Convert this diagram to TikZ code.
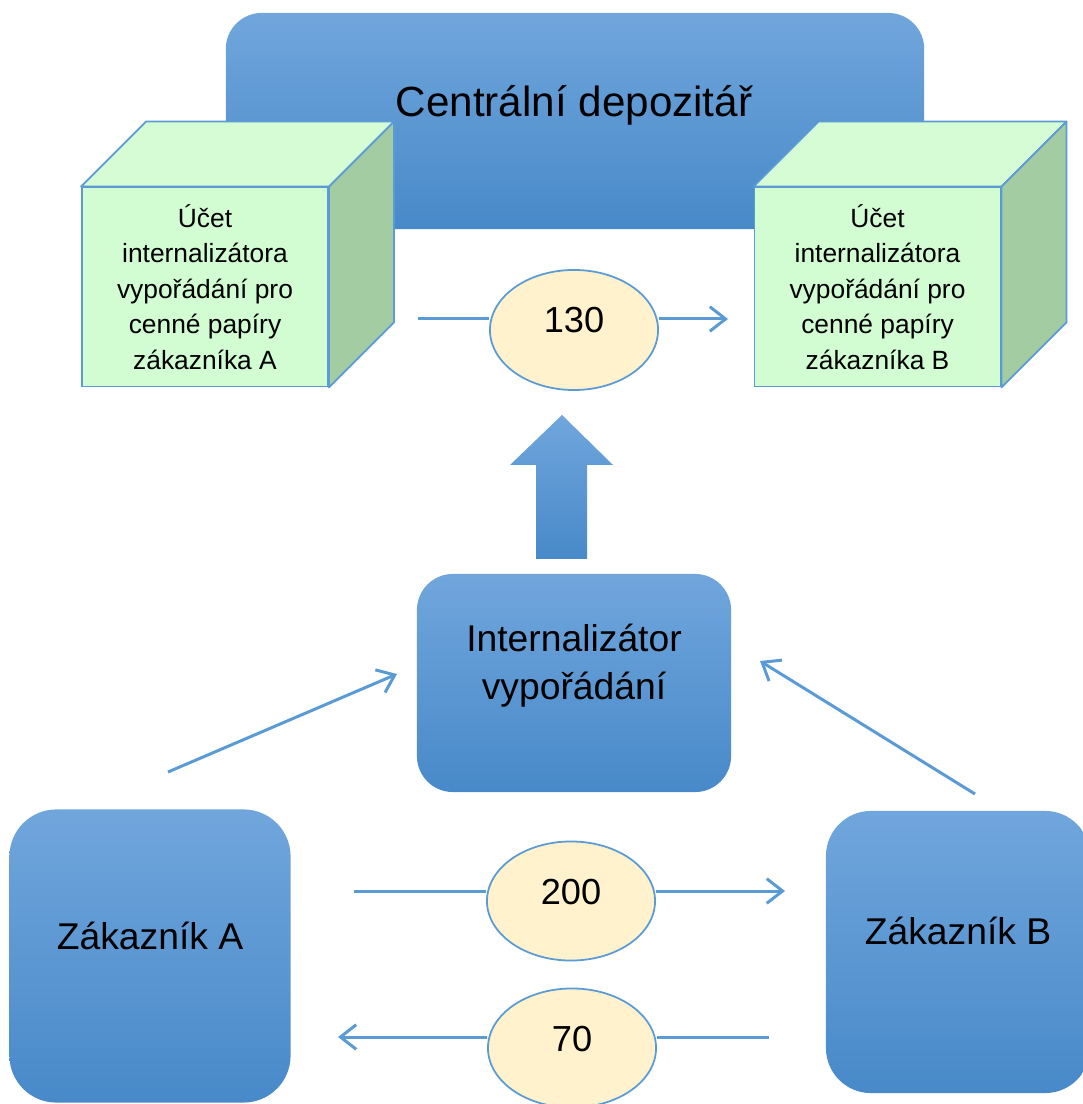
\documentclass[tikz,border=0pt]{standalone}
\usepackage{fontspec}
\setmainfont{Liberation Sans}
\usetikzlibrary{shapes.geometric,arrows.meta}
\definecolor{boxtop}{HTML}{70A6DC}
\definecolor{boxbot}{HTML}{4889C9}
\definecolor{lineblue}{HTML}{5B9BD5}
\definecolor{frontgreen}{HTML}{D2FCD2}
\definecolor{topgreen}{HTML}{D6FCD6}
\definecolor{sidegreen}{HTML}{A3CCA3}
\definecolor{numfill}{HTML}{FFF2CC}

\begin{document}
\begin{tikzpicture}[x=0.01cm,y=-0.01cm,
	bluebox/.style={rectangle, inner sep=0pt, top color=boxtop, bottom color=boxbot},
	cubefront/.style={rectangle, inner sep=0pt, draw=lineblue, line width=0.5pt, fill=frontgreen,
		minimum width=2.46cm, minimum height=1.99cm, align=center, font=\fontsize{7.5}{10.1}\selectfont},
	cubeface/.style={draw=lineblue, line width=0.5pt, line join=round},
	numbox/.style={ellipse, inner sep=0pt, draw=lineblue, line width=0.5pt, fill=numfill,
		minimum width=1.68cm, minimum height=1.19cm},
	bigtext/.style={font=\fontsize{12}{14}\selectfont},
	boxtext/.style={font=\fontsize{10.6}{13.7}\selectfont, align=center},
	numtext/.style={font=\fontsize{10.3}{12}\selectfont},
	flow/.style={draw=lineblue, line width=0.85pt},
	flowarrow/.style={flow, -{Straight Barb[length=4.5pt,width=7pt,line width=0.85pt]}}]
	\useasboundingbox (0,0) rectangle (1083,1104);
	\clip (0,0) rectangle (1083,1104);

	\node[bluebox, rounded corners=0.36cm, minimum width=6.98cm, minimum height=2.16cm] (depo) at (575,121) {};
	\node[bigtext] (depotext) at (574,105) {Centrální depozitář};

	\node[cubefront] (cubeA) at (205,287) {Účet\\internalizátora\\vypořádání pro\\cenné papíry\\zákazníka A};
	\draw[cubeface, fill=topgreen] (cubeA.north west) -- ++(65,-65) -- ([shift={(65,-65)}]cubeA.north east) -- (cubeA.north east) -- cycle;
	\draw[cubeface, fill=sidegreen] (cubeA.north east) -- ++(65,-65) -- ([shift={(65,-65)}]cubeA.south east) -- (cubeA.south east) -- cycle;

	\node[cubefront] (cubeB) at (877.5,287) {Účet\\internalizátora\\vypořádání pro\\cenné papíry\\zákazníka B};
	\draw[cubeface, fill=topgreen] (cubeB.north west) -- ++(65,-65) -- ([shift={(65,-65)}]cubeB.north east) -- (cubeB.north east) -- cycle;
	\draw[cubeface, fill=sidegreen] (cubeB.north east) -- ++(65,-65) -- ([shift={(65,-65)}]cubeB.south east) -- (cubeB.south east) -- cycle;

	\node[numbox, minimum height=1.2cm] (e130) at (574,330) {}; \node[numtext] (t130) at (574,320) {130};
	\coordinate (a130) at (418,319); \coordinate (b130) at (728,319);
	\draw[flow] (a130) -- (a130 -| e130.west);
	\draw[flowarrow] (b130 -| e130.east) -- (b130);

	\node[bluebox, rounded corners=0.36cm, minimum width=3.14cm, minimum height=2.18cm] (intern) at (574,683) {};
	\node[boxtext] (interntext) at (574,666) {Internalizátor\\vypořádání};
	\shade[top color=boxtop, bottom color=boxbot] (562,415) -- (613,465) -- (587,465) -- (587,559) -- (536,559) -- (536,465) -- (510,465) -- cycle;

	\node[bluebox, rounded corners=0.47cm, minimum width=2.81cm, minimum height=2.93cm] (zakA) at (150,956) {};
	\node[boxtext] (zakAtext) at (150,936) {Zákazník A};
	\node[bluebox, rounded corners=0.45cm, minimum width=2.64cm, minimum height=2.82cm] (zakB) at (958,952) {};
	\node[boxtext] (zakBtext) at (958,931) {Zákazník B};

	\coordinate (fromA) at (168,772); \coordinate (toIntA) at (397,674);
	\coordinate (fromB) at (975,794); \coordinate (toIntB) at (760,661);
	\draw[flowarrow] (fromA) -- (toIntA);
	\draw[flowarrow] (fromB) -- (toIntB);

	\node[numbox] (e200) at (571,901) {}; \node[numtext] (t200) at (571,892) {200};
	\coordinate (a200) at (354,891); \coordinate (b200) at (785,891);
	\draw[flow] (a200) -- (a200 -| e200.west);
	\draw[flowarrow] (b200 -| e200.east) -- (b200);

	\node[numbox] (e70) at (572,1048) {}; \node[numtext] (t70) at (572,1039) {70};
	\coordinate (a70) at (769,1037); \coordinate (b70) at (338,1037);
	\draw[flow] (a70) -- (a70 -| e70.east);
	\draw[flowarrow] (b70 -| e70.west) -- (b70);
\end{tikzpicture}
\end{document}
